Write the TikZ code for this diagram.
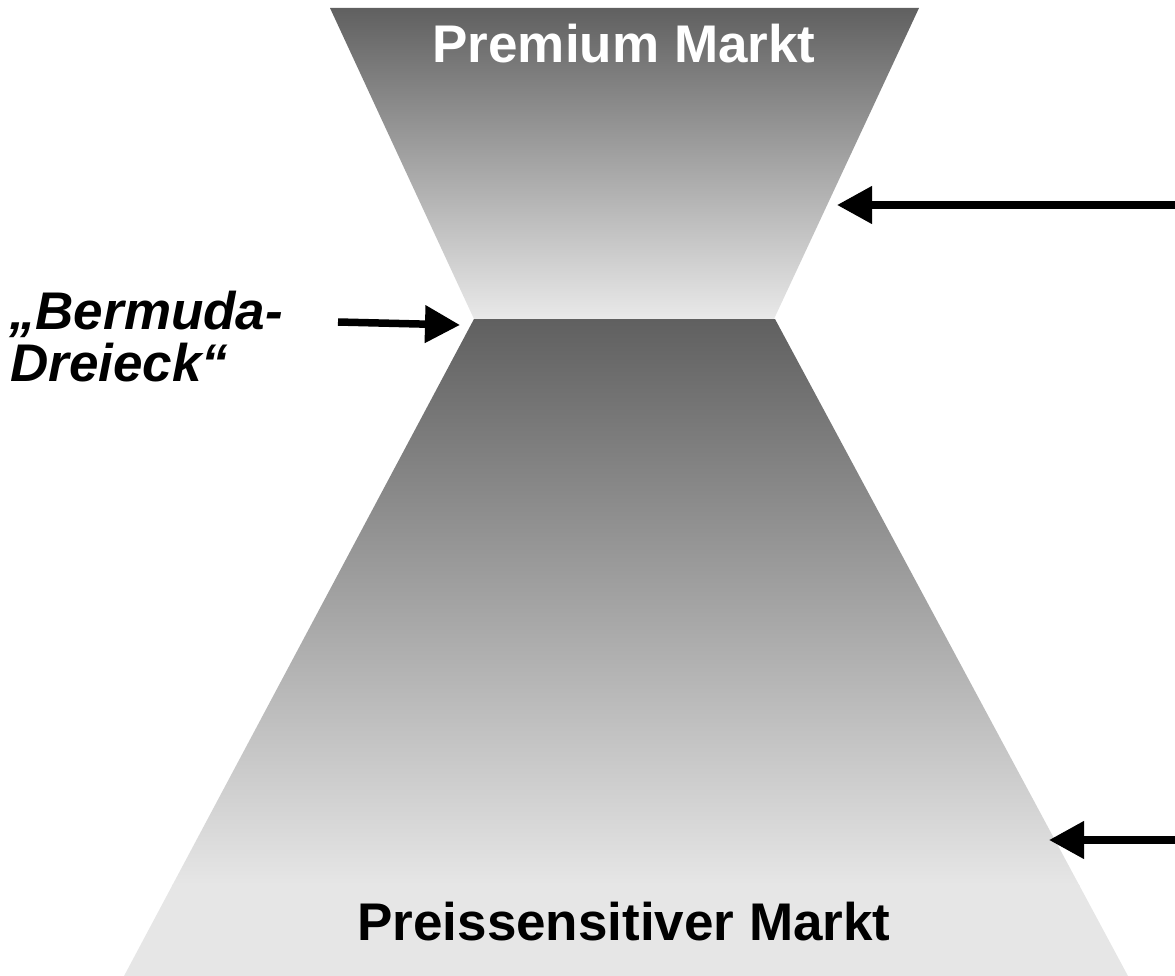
\documentclass[tikz,border=0pt]{standalone}
\usepackage{fontspec}
\setmainfont{Liberation Sans}
\usetikzlibrary{arrows.meta}
\definecolor{funneldark}{HTML}{606060}
\definecolor{funnellight}{HTML}{E9E9E9}
\definecolor{baselight}{HTML}{E6E6E6}
\begin{document}
\begin{tikzpicture}[x=1pt,y=-1pt,
  lbl/.style={font=\fontsize{53}{53}\selectfont\bfseries, inner sep=0pt},
  sidelbl/.style={font=\fontsize{53}{53}\selectfont\bfseries\itshape, inner sep=0pt, anchor=base west},
  pointer/.style={line width=7.5pt, -{Triangle[length=35pt,width=36pt]}, black},
]
\useasboundingbox (0,0) rectangle (1175,976);

% upper funnel: premium segment
\shade[top color=funneldark, bottom color=funnellight]
  (330,8) -- (919,8) -- (774,319) -- (474,319) -- cycle;
% lower funnel: price-sensitive segment, gradient levels off near the base
\begin{scope}
  \clip (474,319) -- (775,319) -- (1128,976) -- (124,976) -- cycle;
  \shade[top color=funneldark, bottom color=baselight] (100,319) rectangle (1150,885);
  \fill[baselight] (100,884) rectangle (1150,977);
\end{scope}

% labels
\node[lbl, text=white, anchor=base] (premium) at (624,63) {Premium Markt};
\node[lbl, text=black, anchor=base] (preis) at (624,940) {Preissensitiver Markt};
\node[sidelbl] (bermA) at (9,330) {„Bermuda-};
\node[sidelbl] (bermB) at (10,381) {Dreieck“};

% arrow anchors
\coordinate (upTail) at (1176,205);
\coordinate (upTip) at (837,205);
\coordinate (lowTail) at (1176,840);
\coordinate (lowTip) at (1049,840);
\coordinate (neckTail) at (338,322);
\coordinate (neckTip) at (460,325);

\draw[pointer] (upTail) -- (upTip);
\draw[pointer] (lowTail) -- (lowTip);
\draw[pointer] (neckTail) -- (neckTip);
\end{tikzpicture}
\end{document}
